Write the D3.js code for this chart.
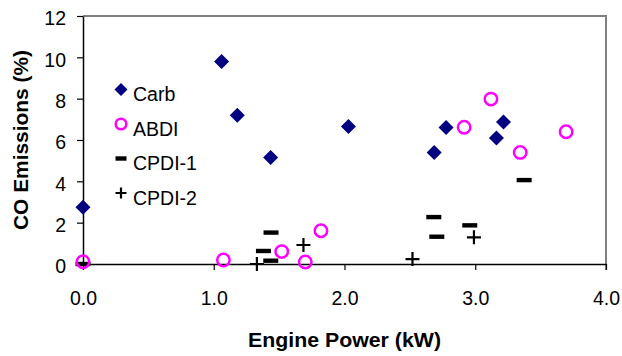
<!DOCTYPE html>
<html>
<head>
<meta charset="utf-8">
<script src="https://cdn.jsdelivr.net/npm/d3@7"></script>
<style>
  body { margin: 0; background: #fff; }
  svg text { font-family: "Liberation Sans", Arial, sans-serif; fill: #000; }
</style>
</head>
<body>
<svg id="chart"></svg>
<script>
// series: [engine power kW, CO %]
const carb = [[0.0, 2.75], [1.06, 9.8], [1.18, 7.2], [1.435, 5.15], [2.03, 6.65],
              [2.686, 5.4], [2.777, 6.6], [3.162, 6.1], [3.216, 6.87]];
const abdi = [[0.0, 0.11], [1.074, 0.19], [1.52, 0.6], [1.70, 0.1], [1.82, 1.61],
              [2.915, 6.62], [3.12, 7.98], [3.344, 5.4], [3.695, 6.4]];
const cpdi1 = [[0.0, 0.0], [1.438, 1.52], [1.38, 0.63], [1.436, 0.16], [2.683, 2.27],
               [2.706, 1.32], [2.958, 1.87], [3.374, 4.06]];
const cpdi2 = [[1.33, 0.0], [1.686, 0.92], [2.52, 0.24], [2.99, 1.29]];

const xTicks = [0, 1, 2, 3, 4];
const yTicks = [0, 2, 4, 6, 8, 10, 12];
const seriesNames = ['Carb', 'ABDI', 'CPDI-1', 'CPDI-2'];

const width = 622, height = 356;
const margin = {top: 16, right: 16, bottom: 92, left: 83};

const svg = d3.select('#chart').attr('width', width).attr('height', height);

const x = d3.scaleLinear().domain([0, 4]).range([margin.left, width - margin.right]);
const y = d3.scaleLinear().domain([0, 12]).range([height - margin.bottom, margin.top]);

// plot frame (grey top/right like Excel)
svg.append('path')
  .attr('d', `M${x(0)},${y(12)}H${x(4)}V${y(0) + 6}`)
  .attr('fill', 'none').attr('stroke', '#808080').attr('stroke-width', 2);

const xAxis = d3.axisBottom(x).tickValues(xTicks).tickFormat(d3.format('.1f'))
  .tickSize(6).tickSizeOuter(0).tickPadding(21);
const yAxis = d3.axisLeft(y).tickValues(yTicks).tickFormat(d3.format('d'))
  .tickSize(6).tickSizeOuter(0).tickPadding(11);

const gx = svg.append('g').attr('transform', `translate(0,${y(0)})`).call(xAxis);
const gy = svg.append('g').attr('transform', `translate(${x(0)},0)`).call(yAxis);
[gx, gy].forEach(g => {
  g.select('.domain').attr('stroke', '#000').attr('stroke-width', 1.5);
  g.selectAll('.tick line').attr('stroke', '#000').attr('stroke-width', 1.2);
  g.selectAll('.tick text').style('font-size', '19.5px').attr('fill', '#000');
});
gx.selectAll('.tick text').attr('dy', '0.71em');
gy.selectAll('.tick text').attr('dy', '0.45em');

svg.append('text')
  .attr('x', 344.5).attr('y', 347)
  .attr('text-anchor', 'middle')
  .attr('textLength', 193).attr('lengthAdjust', 'spacingAndGlyphs')
  .style('font-size', '19.5px').style('font-weight', 'bold')
  .text('Engine Power (kW)');

svg.append('text')
  .attr('transform', `translate(28,${(y(0) + y(12)) / 2}) rotate(-90)`)
  .attr('text-anchor', 'middle')
  .attr('textLength', 180).attr('lengthAdjust', 'spacingAndGlyphs')
  .style('font-size', '19.5px').style('font-weight', 'bold')
  .text('CO Emissions (%)');

// marker drawers
function diamond(g, s) {
  g.append('path').attr('d', `M0,${-s}L${s},0L0,${s}L${-s},0Z`).attr('fill', '#000080');
}
function circle(g, r) {
  g.append('circle').attr('r', r).attr('fill', 'none')
    .attr('stroke', '#ff00ff').attr('stroke-width', 2.5);
}
function dash(g, w) {
  g.append('rect').attr('x', -w / 2).attr('y', -2.2).attr('width', w).attr('height', 4.4).attr('fill', '#000');
}
function plus(g, s) {
  g.append('path').attr('d', `M${-s},0H${s}M0,${-s}V${s}`)
    .attr('stroke', '#000').attr('stroke-width', 2.2).attr('fill', 'none');
}

const plot = svg.append('g');
function drawSeries(data, fn, size) {
  plot.selectAll(null).data(data).join('g')
    .attr('transform', d => `translate(${x(d[0])},${y(d[1])})`)
    .each(function() { fn(d3.select(this), size); });
}
drawSeries(cpdi1, dash, 15);
drawSeries(cpdi2, plus, 7);
drawSeries(abdi, circle, 6.2);
drawSeries(carb, diamond, 7.5);

// legend
const legendFns = [[diamond, 6.5], [circle, 5.3], [dash, 11], [plus, 5.5]];
const legend = svg.append('g');
seriesNames.forEach((name, i) => {
  const row = legend.append('g').attr('transform', `translate(121,${89.5 + i * 34.5})`);
  legendFns[i][0](row, legendFns[i][1]);
  row.append('text').attr('x', 12).attr('y', 11.5)
    .style('font-size', '19.5px').text(name);
});
</script>
</body>
</html>
